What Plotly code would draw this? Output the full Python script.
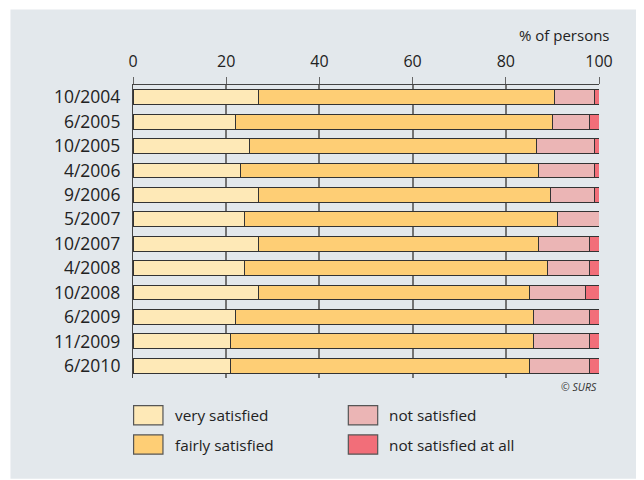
import plotly.graph_objects as go

periods = ["10/2004", "6/2005", "10/2005", "4/2006", "9/2006", "5/2007",
           "10/2007", "4/2008", "10/2008", "6/2009", "11/2009", "6/2010"]
very_satisfied = [27, 22, 25, 23, 27, 24, 27, 24, 27, 22, 21, 21]
fairly_satisfied = [63.5, 68, 61.5, 64, 62.5, 67, 60, 65, 58, 64, 65, 64]
not_satisfied = [8.5, 8, 12.5, 12, 9.5, 9, 11, 9, 12, 12, 12, 13]
not_satisfied_at_all = [1, 2, 1, 1, 1, 0, 2, 2, 3, 2, 2, 2]

series = [
    ("very satisfied", very_satisfied, "#fee9b7"),
    ("fairly satisfied", fairly_satisfied, "#fece75"),
    ("not satisfied", not_satisfied, "#ebb5b5"),
    ("not satisfied at all", not_satisfied_at_all, "#f26e79"),
]
x_ticks = [0, 20, 40, 60, 80, 100]

BG = "#e3e8ec"
FONT = "Open Sans"

fig = go.Figure()
for name, vals, col in series:
    fig.add_trace(go.Bar(
        y=periods, x=vals, name=name, orientation="h",
        marker=dict(color=col, line=dict(color="#333333", width=1)),
        width=0.61, showlegend=False,
    ))

# page body has an 8px margin, so the figure is drawn at (8, 8) in the window
OFF = 8
W, H = 636, 472
ml, mr, mt, mb = 124.7, 44.7, 76.6, 102
pw = W - ml - mr
ph = H - mt - mb

def px(x):  # window x -> paper x
    return (x - OFF - ml) / pw

def py(y):  # window y -> paper y
    return (H - mb - (y - OFF)) / ph

shapes = [
    dict(type="rect", xref="paper", yref="paper", x0=px(10), x1=px(650),
         y0=py(479), y1=py(9), fillcolor=BG, line=dict(width=0), layer="below"),
]
annotations = [
    dict(text="% of persons", xref="paper", yref="paper", x=px(612), y=py(35),
         xanchor="right", yanchor="middle", showarrow=False,
         font=dict(family=FONT, size=15, color="#222222")),
    dict(text="<i>© SURS</i>", xref="paper", yref="paper", x=px(599.5), y=py(387.5),
         xanchor="right", yanchor="middle", showarrow=False,
         font=dict(family=FONT, size=10.5, color="#333333")),
]
legend_pos = [
    (133.3, 405.7), (133.3, 435.0), (348.3, 405.7), (348.3, 435.0)
]
for (name, _, col), (lx, ly) in zip(series, legend_pos):
    shapes.append(dict(type="rect", xref="paper", yref="paper",
                       x0=px(lx), x1=px(lx + 29.4), y0=py(ly + 19.3), y1=py(ly),
                       fillcolor=col, line=dict(color="#555555", width=1.2)))
    annotations.append(dict(text=name, xref="paper", yref="paper",
                            x=px(lx + 39), y=py(ly + 9.8), xanchor="left",
                            yanchor="middle", showarrow=False,
                            font=dict(family=FONT, size=15.3, color="#222222")))

fig.update_layout(
    width=W, height=H, barmode="stack",
    margin=dict(l=ml, r=mr, t=mt, b=mb, pad=0),
    paper_bgcolor="white", plot_bgcolor=BG,
    font=dict(family=FONT, color="#222222"),
    shapes=shapes, annotations=annotations,
    bargap=0.39,
    xaxis=dict(side="top", range=[0, 100], tickvals=x_ticks,
               ticktext=[str(t) for t in x_ticks],
               showgrid=True, gridcolor="#737373", gridwidth=1.6,
               ticks="outside", ticklen=7, tickcolor="#666666", tickwidth=1.2,
               showline=True, linecolor="#444444", linewidth=1.2,
               zeroline=False, tickfont=dict(size=16, color="#222222"),
               ticklabelstandoff=4, fixedrange=True),
    yaxis=dict(categoryorder="array", categoryarray=periods, autorange="reversed",
               showgrid=False, ticks="", showline=True, linecolor="#444444",
               linewidth=1.2, tickfont=dict(size=17.5, color="#222222"),
               ticklabelstandoff=8, fixedrange=True),
)

fig.write_html("out.html")
